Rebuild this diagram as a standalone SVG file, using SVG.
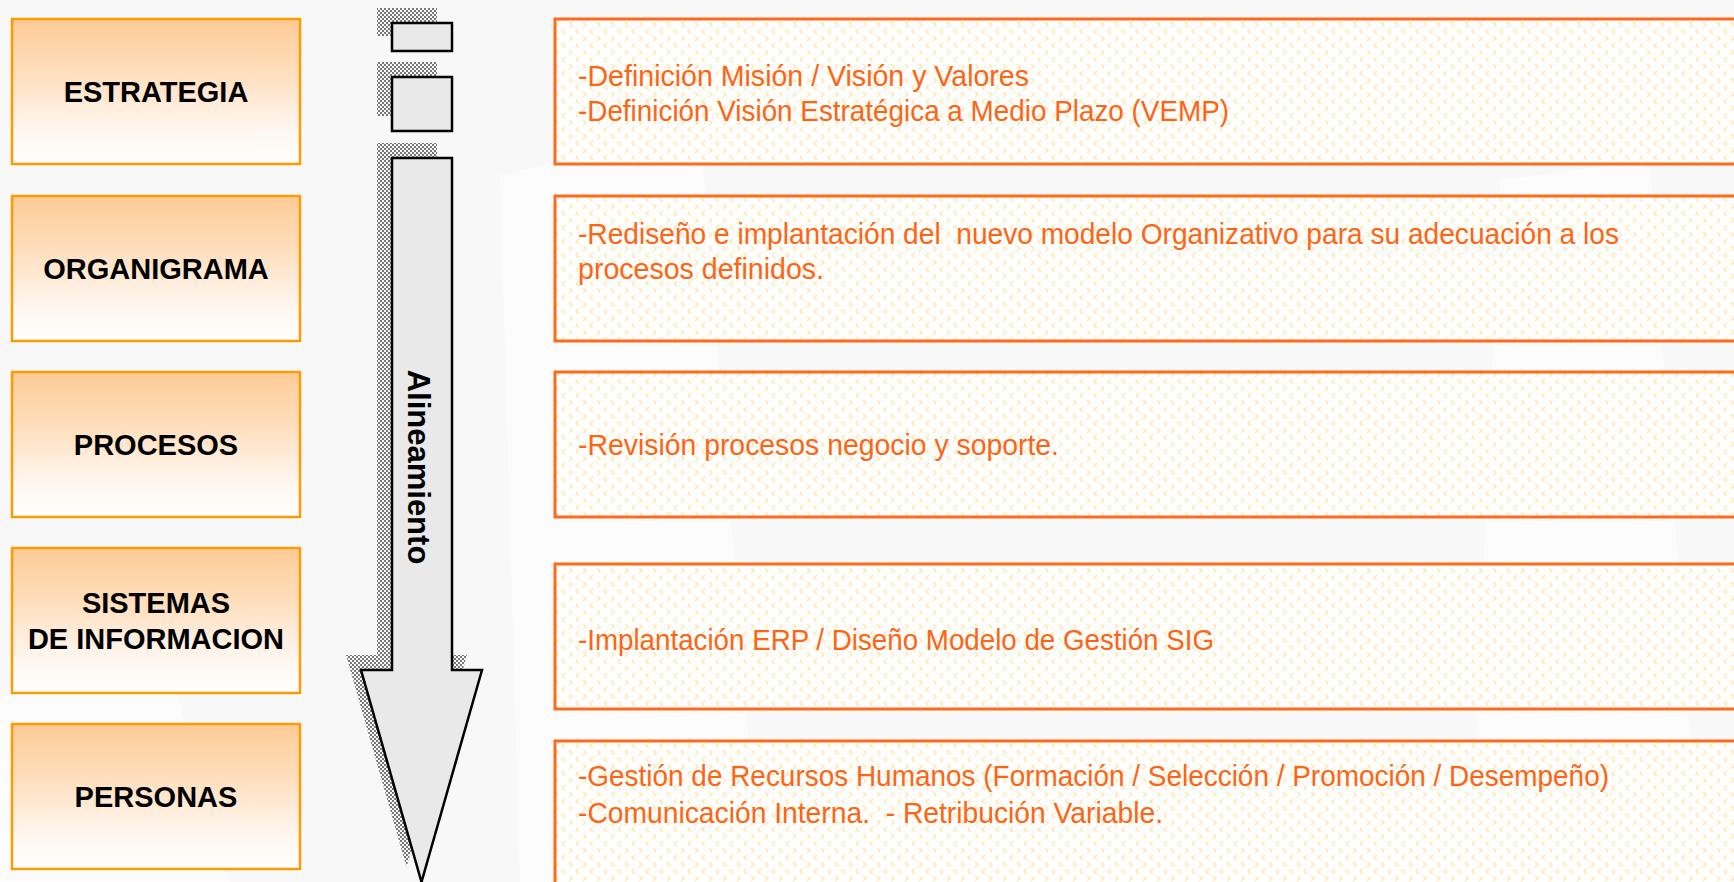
<svg xmlns="http://www.w3.org/2000/svg" width="1734" height="882" viewBox="0 0 1734 882">
<defs>
  <linearGradient id="gLeft" x1="0" y1="0" x2="0" y2="1">
    <stop offset="0" stop-color="#FFCB96"/>
    <stop offset="0.35" stop-color="#FFDDBA"/>
    <stop offset="0.75" stop-color="#FFF6EE"/>
    <stop offset="1" stop-color="#FFFFFF"/>
  </linearGradient>
  <pattern id="pChev" x="0" y="0" width="14" height="14" patternUnits="userSpaceOnUse">
    <rect width="14" height="14" fill="#FFFFFF"/>
    <path d="M5,1 L2,3.5 L5,6" fill="none" stroke="#FFE8A8" stroke-width="1.3"/>
    <path d="M9,8 L12,10.5 L9,13" fill="none" stroke="#FFE8A8" stroke-width="1.3"/>
  </pattern>
  <pattern id="pShadow" x="0" y="0" width="4" height="4" patternUnits="userSpaceOnUse">
    <rect x="0" y="0" width="2" height="2" fill="#777777"/>
    <rect x="2" y="2" width="2" height="2" fill="#777777"/>
  </pattern>
  <style>
    .lbox { fill: url(#gLeft); stroke: #FF9A00; stroke-width: 2.5; }
    .rbox { fill: url(#pChev); stroke: #FF6A1A; stroke-width: 3; }
    .ltxt { font-family: "Liberation Sans", Arial, sans-serif; font-weight: bold; font-size: 29px; fill: #000000; text-anchor: middle; }
    .rtxt { font-family: "Liberation Sans", Arial, sans-serif; font-size: 29px; fill: #FF6314; }
    .shp { fill: #E9E9E9; stroke: #000000; stroke-width: 2.5; stroke-linejoin: miter; }
    .shd { fill: url(#pShadow); stroke: none; }
  </style>
</defs>

<rect x="0" y="0" width="1734" height="882" fill="#F9F8F9"/>
<g id="background" fill="#FFFFFF" opacity="0.55">
  <polygon points="500,175 700,130 760,882 520,882"/>
  <polygon points="1500,180 1650,160 1700,882 1470,882"/>
  <polygon points="0,700 140,560 230,882 0,882"/>
</g>

<g id="left-boxes">
  <g id="n-estrategia">
    <rect class="lbox" x="12" y="19" width="288" height="145"/>
    <text class="ltxt" x="156" y="102">ESTRATEGIA</text>
  </g>
  <g id="n-organigrama">
    <rect class="lbox" x="12" y="196" width="288" height="145"/>
    <text class="ltxt" x="156" y="279">ORGANIGRAMA</text>
  </g>
  <g id="n-procesos">
    <rect class="lbox" x="12" y="372" width="288" height="145"/>
    <text class="ltxt" x="156" y="455">PROCESOS</text>
  </g>
  <g id="n-sistemas">
    <rect class="lbox" x="12" y="548" width="288" height="145"/>
    <text class="ltxt" x="156" y="613">SISTEMAS</text>
    <text class="ltxt" x="156" y="649">DE INFORMACION</text>
  </g>
  <g id="n-personas">
    <rect class="lbox" x="12" y="724" width="288" height="145"/>
    <text class="ltxt" x="156" y="807">PERSONAS</text>
  </g>
</g>

<g id="connectors">
  <g id="arrow-shadow" class="shd">
    <rect x="377" y="8" width="60" height="28"/>
    <rect x="377" y="62" width="60" height="54"/>
    <polygon points="377,143 437,143 437,655 467,655 406.5,867 346,655 377,655"/>
  </g>
  <g id="arrow">
    <rect class="shp" x="392" y="23" width="60" height="28"/>
    <rect class="shp" x="392" y="77" width="60" height="54"/>
    <polygon class="shp" points="392,158 452,158 452,670 482,670 421.5,882 361,670 392,670"/>
    <text transform="translate(408,467) rotate(90)" x="0" y="0" text-anchor="middle" font-family="Liberation Sans, Arial, sans-serif" font-weight="bold" font-size="31" fill="#000000">Alineamiento</text>
  </g>
</g>

<g id="right-boxes">
  <g id="d-estrategia">
    <rect class="rbox" x="555" y="19" width="1200" height="145"/>
    <text class="rtxt" x="578" y="86" textLength="451" lengthAdjust="spacingAndGlyphs">-Definición Misión / Visión y Valores</text>
    <text class="rtxt" x="578" y="121" textLength="651" lengthAdjust="spacingAndGlyphs">-Definición Visión Estratégica a Medio Plazo (VEMP)</text>
  </g>
  <g id="d-organigrama">
    <rect class="rbox" x="555" y="196" width="1200" height="145"/>
    <text class="rtxt" x="578" y="244" textLength="1041" lengthAdjust="spacingAndGlyphs" xml:space="preserve">-Rediseño e implantación del  nuevo modelo Organizativo para su adecuación a los</text>
    <text class="rtxt" x="578" y="279" textLength="246" lengthAdjust="spacingAndGlyphs">procesos definidos.</text>
  </g>
  <g id="d-procesos">
    <rect class="rbox" x="555" y="372" width="1200" height="145"/>
    <text class="rtxt" x="578" y="455" textLength="481" lengthAdjust="spacingAndGlyphs">-Revisión procesos negocio y soporte.</text>
  </g>
  <g id="d-sistemas">
    <rect class="rbox" x="555" y="564" width="1200" height="145"/>
    <text class="rtxt" x="578" y="650" textLength="636" lengthAdjust="spacingAndGlyphs">-Implantación ERP / Diseño Modelo de Gestión SIG</text>
  </g>
  <g id="d-personas">
    <rect class="rbox" x="555" y="741" width="1200" height="160"/>
    <text class="rtxt" x="578" y="786" textLength="1031" lengthAdjust="spacingAndGlyphs">-Gestión de Recursos Humanos (Formación / Selección / Promoción / Desempeño)</text>
    <text class="rtxt" x="578" y="823" textLength="585" lengthAdjust="spacingAndGlyphs" xml:space="preserve">-Comunicación Interna.  - Retribución Variable.</text>
  </g>
</g>
</svg>
